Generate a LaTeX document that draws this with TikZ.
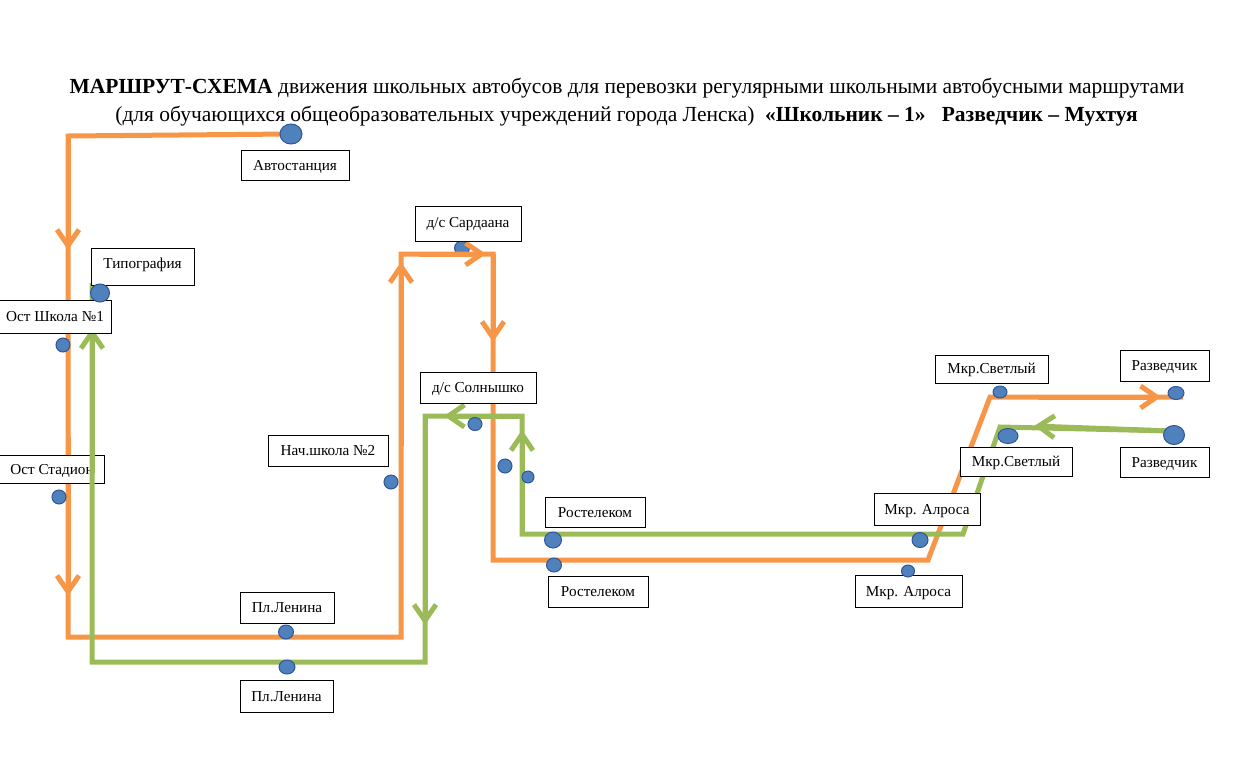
\documentclass[tikz,border=0pt]{standalone}
\usepackage{fontspec}
\setmainfont{Liberation Serif}
\usetikzlibrary{arrows.meta,shapes.geometric,calc}
\definecolor{routeor}{HTML}{F79646}
\definecolor{routegr}{HTML}{9BBB59}
\definecolor{stopfill}{HTML}{4F81BD}
\definecolor{stopedge}{HTML}{2F5597}
\begin{document}
\begin{tikzpicture}[x=1pt,y=-1pt,
  orroute/.style={draw=routeor, line width=5pt, line join=miter},
  grroute/.style={draw=routegr, line width=5pt, line join=miter},
  chev/.style={-{Straight Barb[length=16pt,width=22pt]}},
  lbl/.style={draw=black, fill=white, line width=0.9pt, inner sep=0pt, minimum height=31pt, text height=10pt, text depth=0pt, font=\fontsize{15.2}{18}\selectfont},
  stop/.style={ellipse, fill=stopfill, draw=stopedge, line width=1pt, inner sep=0pt},
  ttl/.style={anchor=base, inner sep=0pt, font=\fontsize{21.5}{26}\selectfont}
]
\useasboundingbox (0,0) rectangle (1236,758);
% title
\node[ttl] (t1) at (627,93) {\textbf{МАРШРУТ-СХЕМА} движения школьных автобусов для перевозки регулярными школьными автобусными маршрутами};
\node[ttl] (t2) at (626.5,121) {(для обучающихся общеобразовательных учреждений города Ленска)\ \ \textbf{«Школьник – 1»\ \ \ Разведчик – Мухтуя}};

% orange vertices
\coordinate (o0) at (290,134);
\coordinate (o1) at (68,136);
\coordinate (o2) at (68,637);
\coordinate (o3) at (401,637);
\coordinate (o4) at (401,254);
\coordinate (o5) at (493,254);
\coordinate (o6) at (493,560);
\coordinate (o7) at (928,560);
\coordinate (o8) at (990,397);
\coordinate (o9) at (1183,397);
% green vertices
\coordinate (g0) at (1172,431);
\coordinate (g1) at (1000,427);
\coordinate (g2) at (963,534);
\coordinate (g3) at (522,534);
\coordinate (g4) at (522,416);
\coordinate (g5) at (425,416);
\coordinate (g6) at (425,662);
\coordinate (g7) at (92,662);
\coordinate (g8) at (92,283);
% arrow apexes
\coordinate (oa1) at (68,250);
\coordinate (oa2) at (68,596);
\coordinate (oa3) at (401,262);
\coordinate (oa4) at (486,254);
\coordinate (oa5) at (493,342);
\coordinate (oa6) at (1161,397);
\coordinate (ga1) at (1034,426);
\coordinate (ga2) at (522,430);
\coordinate (ga3) at (444,416);
\coordinate (ga4) at (425,625);
\coordinate (ga5) at (92,328);

% Sardaana stop sits under the orange line
\node[stop, minimum width=15pt, minimum height=14pt] (sSard) at (462,248) {};

% orange route
\draw[orroute] (o0) -- (o1) -- (o2) -- (o3) -- (o4) -- (o5) -- (o6) -- (o7) -- (o8) -- (o9);
\draw[orroute, chev] (o1) -- (oa1);
\draw[orroute, chev] ($(o1)!0.6!(o2)$) -- (oa2);
\draw[orroute, chev] ($(o3)!0.5!(o4)$) -- (oa3);
\draw[orroute, chev] ($(o4)!0.2!(o5)$) -- (oa4);
\draw[orroute, chev] (o5) -- (oa5);
\draw[orroute, chev] ($(o8)!0.25!(o9)$) -- (oa6);

% box under the green line
\node[lbl, minimum width=105pt, minimum height=28pt] (lStad) at (52,469) {Ост Стадион};

% green route
\draw[grroute] (g0) -- (g1) -- (g2) -- (g3) -- (g4) -- (g5) -- (g6) -- (g7) -- (g8);
\draw[grroute, chev] (g0) -- (ga1);
\draw[grroute, chev] (g3) -- (ga2);
\draw[grroute, chev] (g4) -- (ga3);
\draw[grroute, chev] (g5) -- (ga4);
\draw[grroute, chev] ($(g7)!0.5!(g8)$) -- (ga5);

% labels
\node[lbl, minimum width=108pt, minimum height=30pt] (lAvto) at (295,165) {Автостанция};
\node[lbl, minimum width=103pt, minimum height=37pt, text depth=7pt] (lTipo) at (142.5,266.5) {Типография};
\node[lbl, minimum width=113pt, minimum height=33pt] (lSch1) at (55,316.5) {Ост Школа №1};
\node[lbl, minimum width=120pt, minimum height=31pt] (lNach) at (328,450.5) {Нач.школа №2};
\node[lbl, minimum width=94pt, minimum height=31pt] (lLen1) at (287,607.5) {Пл.Ленина};
\node[lbl, minimum width=93pt, minimum height=32pt] (lLen2) at (286.5,696) {Пл.Ленина};
\node[lbl, minimum width=106pt, minimum height=35pt, text depth=3pt] (lSard) at (468,223.5) {д/с Сардаана};
\node[lbl, minimum width=116pt, minimum height=31pt] (lSoln) at (478,387.5) {д/с Солнышко};
\node[lbl, minimum width=100pt, minimum height=30pt] (lRos1) at (595,512) {Ростелеком};
\node[lbl, minimum width=100pt, minimum height=31pt] (lRos2) at (598,591.5) {Ростелеком};
\node[lbl, minimum width=106pt, minimum height=32pt] (lAlr1) at (927,509) {Мкр. Алроса};
\node[lbl, minimum width=107pt, minimum height=32pt] (lAlr2) at (908.5,591) {Мкр. Алроса};
\node[lbl, minimum width=113pt, minimum height=28pt, text depth=2pt] (lSvt1) at (991.5,369) {Мкр.Светлый};
\node[lbl, minimum width=112pt, minimum height=29pt] (lSvt2) at (1016,461.5) {Мкр.Светлый};
\node[lbl, minimum width=89pt, minimum height=31pt, text depth=1pt] (lRaz1) at (1164.5,365.5) {Разведчик};
\node[lbl, minimum width=89pt, minimum height=30pt] (lRaz2) at (1164.5,462) {Разведчик};

% stops
\node[stop, minimum width=22pt, minimum height=20pt] (sAvto) at (291,134) {};
\node[stop, minimum width=19pt, minimum height=18pt] (sTipo) at (100,293) {};
\node[stop, minimum width=14pt, minimum height=14pt] (sSch1) at (63,345) {};
\node[stop, minimum width=14pt, minimum height=14pt] (sStad) at (59,497) {};
\node[stop, minimum width=14pt, minimum height=14pt] (sNach) at (391,482) {};
\node[stop, minimum width=15pt, minimum height=14pt] (sLen1) at (286,632) {};
\node[stop, minimum width=16pt, minimum height=14pt] (sLen2) at (287,667) {};
\node[stop, minimum width=14pt, minimum height=13pt] (sSoln) at (475,424) {};
\node[stop, minimum width=14pt, minimum height=14pt] (sSo2) at (505,466) {};
\node[stop, minimum width=12pt, minimum height=12pt] (sSo3) at (528,477) {};
\node[stop, minimum width=17pt, minimum height=16pt] (sRos1) at (553,540) {};
\node[stop, minimum width=15pt, minimum height=14pt] (sRos2) at (554,565) {};
\node[stop, minimum width=16pt, minimum height=15pt] (sAlr1) at (920,540) {};
\node[stop, minimum width=13pt, minimum height=12pt] (sAlr2) at (908,571) {};
\node[stop, minimum width=14pt, minimum height=12pt] (sSvt1) at (1000,392) {};
\node[stop, minimum width=20pt, minimum height=15pt] (sSvt2) at (1008,436) {};
\node[stop, minimum width=16pt, minimum height=13pt] (sRaz1) at (1176,393) {};
\node[stop, minimum width=21pt, minimum height=19pt] (sRaz2) at (1174,435) {};
\end{tikzpicture}
\end{document}
